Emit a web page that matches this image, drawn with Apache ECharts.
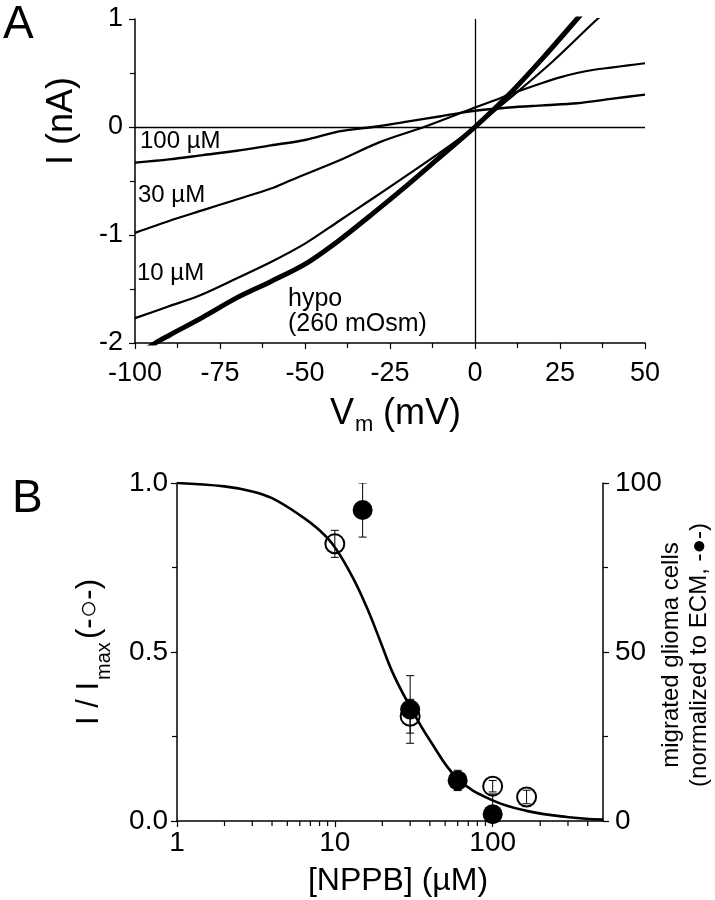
<!DOCTYPE html>
<html><head><meta charset="utf-8">
<script src="https://cdn.jsdelivr.net/npm/echarts@6/dist/echarts.min.js"></script>
<style>html,body{margin:0;padding:0;background:#fff}#c{width:715px;height:900px}</style>
</head><body><div id="c"></div>
<script>
// ---------- Panel A : I-V traces ----------
const vHypo   = [-100,-94,-90,-80,-70,-60,-50,-40,-30,-20,-10,0,10,20,30,35];
const iHypo   = [-2.13,-2.0,-1.93,-1.76,-1.58,-1.43,-1.27,-1.05,-0.80,-0.54,-0.27,0.0,0.30,0.64,1.0,1.18];
const v10     = [-100,-90,-81,-70,-60,-50,-40,-30,-22,-10,0,10,22.6,36,40];
const i10     = [-1.77,-1.66,-1.56,-1.40,-1.25,-1.08,-0.87,-0.66,-0.49,-0.23,0.0,0.26,0.60,1.0,1.1];
const v30     = [-100,-90,-80,-71,-60,-54,-40,-28,-15,0,6,10,20,25,30,35,40,45,50];
const i30     = [-0.98,-0.87,-0.77,-0.68,-0.57,-0.49,-0.31,-0.14,0.0,0.18,0.25,0.30,0.41,0.46,0.50,0.53,0.55,0.57,0.59];
const v100    = [-100,-90,-80,-70,-60,-50,-40,-30,-20,-10,0,10,20,30,40,50];
const i100    = [-0.33,-0.30,-0.26,-0.22,-0.17,-0.12,-0.04,0.0,0.05,0.10,0.15,0.18,0.20,0.22,0.26,0.30];
const traceLabels = ['100 \u00b5M','30 \u00b5M','10 \u00b5M','hypo','(260 mOsm)'];

// ---------- Panel B : dose response ----------
const nppbOpen   = [10,30,100,164];
const iOpen      = [0.82,0.31,0.103,0.071];
const iOpenErr   = [0.04,0.05,0.017,0.02];
const nppbFilled = [15,30,60,100];
const migrated   = [92,33,12,2];
const migratedErr= [8,10,3,6];
const fitX = [1,2,3,4,6,8,10,13,16,19.3,23.4,30,40,60,100,164,294,500];
const fitY = [1.0,0.99,0.975,0.955,0.905,0.86,0.81,0.72,0.63,0.535,0.436,0.338,0.239,0.125,0.061,0.03,0.012,0.004];
const logMinorTicks = [2,3,4,5,6,7,8,9,20,30,40,50,60,70,80,90,200,300,400];

const zip = (a,b)=>a.map((v,i)=>[v,b[i]]);
const zip3 = (a,b,c)=>a.map((v,i)=>[v,b[i],c[i]]);
const FONT = 'Liberation Sans, Arial, Helvetica, sans-serif';

function errRender(params, api){
  const x=api.value(0), y=api.value(1), e=api.value(2);
  const t=api.coord([x,y+e]), b=api.coord([x,y-e]);
  const hw=4, st={stroke:'#000',lineWidth:1};
  return {type:'group',children:[
    {type:'line',shape:{x1:t[0],y1:t[1],x2:b[0],y2:b[1]},style:st},
    {type:'line',shape:{x1:t[0]-hw,y1:t[1],x2:t[0]+hw,y2:t[1]},style:st},
    {type:'line',shape:{x1:b[0]-hw,y1:b[1],x2:b[0]+hw,y2:b[1]},style:st}
  ]};
}
function minorRender(params, api){
  const p=api.coord([api.value(0),0]);
  return {type:'line',shape:{x1:p[0],y1:p[1],x2:p[0],y2:p[1]+5},style:{stroke:'#000',lineWidth:1.2}};
}

const axLine = {show:true,onZero:false,lineStyle:{color:'#000',width:1.5}};
const tick = {show:true,inside:false,length:6,lineStyle:{color:'#000',width:1.2}};
const minor = {show:true,splitNumber:2,length:5,lineStyle:{color:'#000',width:1.2}};
const lbl = (size,margin)=>({color:'#000',fontFamily:FONT,fontSize:size,margin:margin});

const chart = echarts.init(document.getElementById('c'),null,{renderer:'canvas'});
chart.setOption({
  backgroundColor:'#fff',
  animation:false,
  grid:[
    {left:135,top:19,width:510,height:324},
    {left:177,top:483,width:426,height:338}
  ],
  xAxis:[
    {gridIndex:0,type:'value',min:-100,max:50,interval:25,axisLine:axLine,axisTick:tick,minorTick:minor,
     splitLine:{show:false},minorSplitLine:{show:false},axisLabel:lbl(27,17)},
    {gridIndex:1,type:'log',logBase:10,min:1,max:500,axisLine:axLine,axisTick:tick,minorTick:{show:false},
     splitLine:{show:false},axisLabel:Object.assign(lbl(28,8),{showMaxLabel:false})}
  ],
  yAxis:[
    {gridIndex:0,type:'value',min:-2,max:1,interval:1,axisLine:axLine,axisTick:tick,minorTick:minor,
     splitLine:{show:false},minorSplitLine:{show:false},axisLabel:lbl(27,12)},
    {gridIndex:1,type:'value',min:0,max:1,interval:0.5,axisLine:axLine,axisTick:tick,minorTick:minor,
     splitLine:{show:false},minorSplitLine:{show:false},axisLabel:Object.assign(lbl(28,9),{formatter:v=>v.toFixed(1)})},
    {gridIndex:1,type:'value',position:'right',min:0,max:100,interval:50,axisLine:axLine,axisTick:tick,minorTick:minor,
     splitLine:{show:false},minorSplitLine:{show:false},axisLabel:lbl(28,12)}
  ],
  series:[
    {type:'line',xAxisIndex:0,yAxisIndex:0,data:zip(v100,i100),showSymbol:false,smooth:0.3,
     lineStyle:{color:'#000',width:2.4},
     markLine:{silent:true,symbol:'none',label:{show:false},lineStyle:{color:'#000',width:1.3,type:'solid'},
       data:[{xAxis:0},{yAxis:0}]}},
    {type:'line',xAxisIndex:0,yAxisIndex:0,data:zip(v30,i30),showSymbol:false,smooth:0.3,lineStyle:{color:'#000',width:2.2}},
    {type:'line',xAxisIndex:0,yAxisIndex:0,data:zip(v10,i10),showSymbol:false,smooth:0.3,lineStyle:{color:'#000',width:2.2}},
    {type:'line',xAxisIndex:0,yAxisIndex:0,data:zip(vHypo,iHypo),showSymbol:false,smooth:0.3,lineStyle:{color:'#000',width:5}},
    // panel B
    {type:'line',xAxisIndex:1,yAxisIndex:1,data:zip(fitX,fitY),showSymbol:false,smooth:0.4,lineStyle:{color:'#000',width:2.6}},
    {type:'custom',xAxisIndex:1,yAxisIndex:1,data:zip3(nppbOpen,iOpen,iOpenErr),renderItem:errRender,clip:true,z:3},
    {type:'custom',xAxisIndex:1,yAxisIndex:2,data:zip3(nppbFilled,migrated,migratedErr),renderItem:errRender,clip:true,z:3},
    {type:'scatter',xAxisIndex:1,yAxisIndex:1,data:zip(nppbOpen,iOpen),symbol:'circle',symbolSize:19,
     itemStyle:{color:'rgba(0,0,0,0)',borderColor:'#000',borderWidth:2,opacity:1},z:4},
    {type:'scatter',xAxisIndex:1,yAxisIndex:2,data:zip(nppbFilled,migrated),symbol:'circle',symbolSize:20,
     itemStyle:{color:'#000',opacity:1},z:4},
    {type:'custom',xAxisIndex:1,yAxisIndex:1,data:logMinorTicks.map(v=>[v]),renderItem:minorRender,clip:false,z:5}
  ],
  graphic:[
    {type:'text',x:3,y:2,style:{text:'A',font:'46px '+FONT,fill:'#000'}},
    {type:'text',x:12,y:476,style:{text:'B',font:'46px '+FONT,fill:'#000'}},
    {type:'text',x:140,y:129,style:{text:traceLabels[0],font:'24px '+FONT,fill:'#000'}},
    {type:'text',x:138,y:183,style:{text:traceLabels[1],font:'24px '+FONT,fill:'#000'}},
    {type:'text',x:137,y:261,style:{text:traceLabels[2],font:'24px '+FONT,fill:'#000'}},
    {type:'text',x:288,y:287,style:{text:traceLabels[3],font:'25px '+FONT,fill:'#000'}},
    {type:'text',x:288,y:312,style:{text:traceLabels[4],font:'25px '+FONT,fill:'#000'}},
    // A axis titles
    {type:'text',x:62,y:121,rotation:Math.PI/2,style:{text:'I (nA)',font:'36px '+FONT,fill:'#000',align:'center',verticalAlign:'middle'}},
    {type:'text',x:330,y:396,style:{text:'V',font:'36px '+FONT,fill:'#000'}},
    {type:'text',x:355,y:414,style:{text:'m',font:'22px '+FONT,fill:'#000'}},
    {type:'text',x:383,y:396,style:{text:'(mV)',font:'36px '+FONT,fill:'#000'}},
    // B axis titles
    {type:'text',x:398,y:881,style:{text:'[NPPB] (\u00b5M)',font:'32px '+FONT,fill:'#000',align:'center',verticalAlign:'middle'}},
    {type:'group',x:89,y:725,rotation:Math.PI/2,children:[
      {type:'text',x:0,y:-15,style:{text:'I / I',font:'31px '+FONT,fill:'#000'}},
      {type:'text',x:45,y:5,style:{text:'max',font:'20px '+FONT,fill:'#000'}},
      {type:'text',x:86,y:-15,style:{text:'(-\u25cb-)',font:'31px '+FONT,fill:'#000'}}
    ]},
    {type:'text',x:671,y:655,rotation:Math.PI/2,style:{text:'migrated glioma cells',font:'24px '+FONT,fill:'#000',align:'center',verticalAlign:'middle'}},
    {type:'text',x:699,y:655,rotation:Math.PI/2,style:{text:'(normalized to ECM, -\u25cf-)',font:'24px '+FONT,fill:'#000',align:'center',verticalAlign:'middle'}}
  ]
});
</script></body></html>
